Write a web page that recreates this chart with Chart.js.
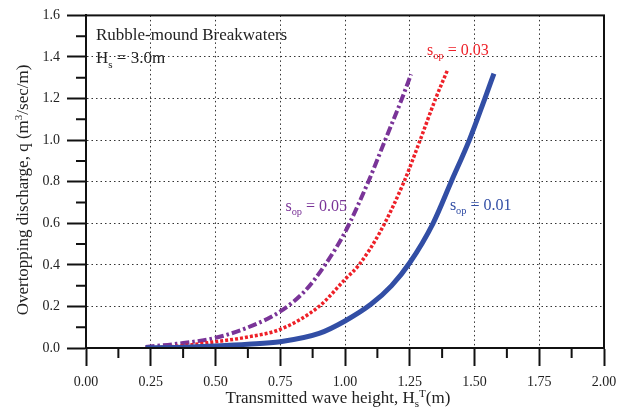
<!DOCTYPE html>
<html>
<head>
<meta charset="utf-8">
<script src="https://cdn.jsdelivr.net/npm/chart.js@4"></script>
<style>
  html, body { margin: 0; padding: 0; background: #fff; }
  #wrap { width: 629px; height: 414px; }
</style>
</head>
<body>
<div id="wrap"><canvas id="chart" width="629" height="414"></canvas></div>
<script>
// Transmitted wave height Hs^T (m) vs overtopping discharge q (m3/sec/m)
const xSop01 = [0.23, 0.35, 0.5, 0.625, 0.75, 0.9, 1.0, 1.1, 1.18, 1.25, 1.34, 1.41, 1.48, 1.54, 1.575];
const qSop01 = [0.0, 0.003, 0.01, 0.018, 0.03, 0.07, 0.13, 0.21, 0.3, 0.41, 0.6, 0.8, 1.0, 1.2, 1.32];

const xSop03 = [0.23, 0.35, 0.5, 0.625, 0.75, 0.9, 1.0, 1.054, 1.135, 1.228, 1.29, 1.35, 1.395];
const qSop03 = [0.0, 0.008, 0.03, 0.053, 0.09, 0.2, 0.33, 0.4, 0.557, 0.8, 1.0, 1.2, 1.335];

const xSop05 = [0.23, 0.35, 0.5, 0.625, 0.75, 0.845, 0.923, 1.0, 1.09, 1.155, 1.22, 1.255];
const qSop05 = [0.005, 0.02, 0.049, 0.099, 0.176, 0.274, 0.4, 0.557, 0.8, 1.0, 1.2, 1.317];

const xTicks = [0, 0.25, 0.5, 0.75, 1.0, 1.25, 1.5, 1.75, 2.0];
const yTicks = [0, 0.2, 0.4, 0.6, 0.8, 1.0, 1.2, 1.4, 1.6];

const BLUE = "rgb(50, 78, 165)";
const RED = "rgb(238, 32, 40)";
const PURPLE = "rgb(122, 52, 152)";
const SERIF = "'Liberation Serif', 'Times New Roman', serif";

const pairs = (xs, ys) => xs.map((x, i) => ({ x: x, y: ys[i] }));

// text with a subscript and/or superscript part
function richText(ctx, parts, x, y, size) {
  let cx = x;
  parts.forEach((p) => {
    let s = size, dy = 0;
    if (p.sub) { s = size * 0.65; dy = size * 0.25; }
    if (p.sup) { s = size * 0.65; dy = -size * 0.38; }
    ctx.font = s + "px " + SERIF;
    ctx.fillText(p.t, cx, y + dy);
    cx += ctx.measureText(p.t).width;
  });
  return cx - x;
}
function richWidth(ctx, parts, size) {
  let w = 0;
  parts.forEach((p) => {
    const s = (p.sub || p.sup) ? size * 0.65 : size;
    ctx.font = s + "px " + SERIF;
    w += ctx.measureText(p.t).width;
  });
  return w;
}

const decorations = {
  id: "decorations",
  afterDraw(chart) {
    const { ctx, chartArea: a, scales } = chart;
    const xs = scales.x, ys = scales.y;
    ctx.save();

    // frame
    ctx.strokeStyle = "#111";
    ctx.lineWidth = 2;
    ctx.strokeRect(a.left, a.top, a.right - a.left, a.bottom - a.top);

    // minor ticks halfway between major ticks
    ctx.beginPath();
    for (let i = 0; i < xTicks.length - 1; i++) {
      const px = xs.getPixelForValue((xTicks[i] + xTicks[i + 1]) / 2);
      ctx.moveTo(px, a.bottom);
      ctx.lineTo(px, a.bottom + 10);
    }
    for (let i = 0; i < yTicks.length - 1; i++) {
      const py = ys.getPixelForValue((yTicks[i] + yTicks[i + 1]) / 2);
      ctx.moveTo(a.left, py);
      ctx.lineTo(a.left - 10, py);
    }
    ctx.stroke();

    ctx.textBaseline = "alphabetic";
    ctx.textAlign = "left";

    // y axis title
    ctx.fillStyle = "#222";
    const yt = [{ t: "Overtopping discharge, q (m" }, { t: "3", sup: true }, { t: "/sec/m)" }];
    ctx.save();
    ctx.translate(28, 190);
    ctx.rotate(-Math.PI / 2);
    richText(ctx, yt, -richWidth(ctx, yt, 17) / 2, 0, 17);
    ctx.restore();

    // x axis title
    const xt = [{ t: "Transmitted wave height, H" }, { t: "s", sub: true }, { t: "T", sup: true }, { t: "(m)" }];
    richText(ctx, xt, 338 - richWidth(ctx, xt, 17) / 2, 403, 17);

    // panel notes
    richText(ctx, [{ t: "Rubble-mound Breakwaters" }], a.left + 10, a.top + 25, 17);
    richText(ctx, [{ t: "H" }, { t: "s", sub: true }, { t: " = 3.0m" }], a.left + 10, a.top + 48, 17);

    // curve labels
    ctx.fillStyle = PURPLE;
    richText(ctx, [{ t: "s" }, { t: "op", sub: true }, { t: " = 0.05" }], xs.getPixelForValue(0.77), ys.getPixelForValue(0.66), 16);
    ctx.fillStyle = RED;
    richText(ctx, [{ t: "s" }, { t: "op", sub: true }, { t: " = 0.03" }], xs.getPixelForValue(1.317), ys.getPixelForValue(1.41), 16);
    ctx.fillStyle = BLUE;
    richText(ctx, [{ t: "s" }, { t: "op", sub: true }, { t: " = 0.01" }], xs.getPixelForValue(1.405), ys.getPixelForValue(0.665), 16);

    ctx.restore();
  },
};

new Chart(document.getElementById("chart"), {
  type: "line",
  data: {
    datasets: [
      {
        label: "sop = 0.01",
        data: pairs(xSop01, qSop01),
        borderColor: BLUE,
        borderWidth: 5,
        cubicInterpolationMode: "monotone",
        pointRadius: 0,
        fill: false,
      },
      {
        label: "sop = 0.03",
        data: pairs(xSop03, qSop03),
        borderColor: RED,
        borderWidth: 3.5,
        borderDash: [3, 2],
        cubicInterpolationMode: "monotone",
        pointRadius: 0,
        fill: false,
      },
      {
        label: "sop = 0.05",
        data: pairs(xSop05, qSop05),
        borderColor: PURPLE,
        borderWidth: 4,
        borderDash: [9, 3, 2.5, 3],
        cubicInterpolationMode: "monotone",
        pointRadius: 0,
        fill: false,
      },
    ],
  },
  options: {
    responsive: false,
    animation: false,
    layout: { padding: { left: 10, right: 25, top: 9, bottom: 0 } },
    plugins: {
      legend: { display: false },
      tooltip: { enabled: false },
    },
    scales: {
      x: {
        type: "linear",
        min: 0,
        max: 2,
        afterBuildTicks: (s) => { s.ticks = xTicks.map((v) => ({ value: v })); },
        afterFit: (s) => { s.height = 66; },
        ticks: {
          color: "#222",
          font: { family: SERIF, size: 14 },
          padding: 8,
          maxRotation: 0,
          callback: (v) => v.toFixed(2),
        },
        grid: {
          color: "#333",
          lineWidth: 1,
          tickLength: 18,
          tickColor: "#111",
          tickWidth: 2,
        },
        border: { display: true, color: "#111", width: 2, dash: [1.5, 3] },
      },
      y: {
        type: "linear",
        min: 0,
        max: 1.6,
        afterBuildTicks: (s) => { s.ticks = yTicks.map((v) => ({ value: v })); },
        afterFit: (s) => { s.width = 76; },
        ticks: {
          color: "#222",
          font: { family: SERIF, size: 14 },
          padding: 7,
          callback: (v) => v.toFixed(1),
        },
        grid: {
          color: "#333",
          lineWidth: 1,
          tickLength: 19,
          tickColor: "#111",
          tickWidth: 2,
        },
        border: { display: true, color: "#111", width: 2, dash: [1.5, 3] },
      },
    },
  },
  plugins: [decorations],
});
</script>
</body>
</html>
